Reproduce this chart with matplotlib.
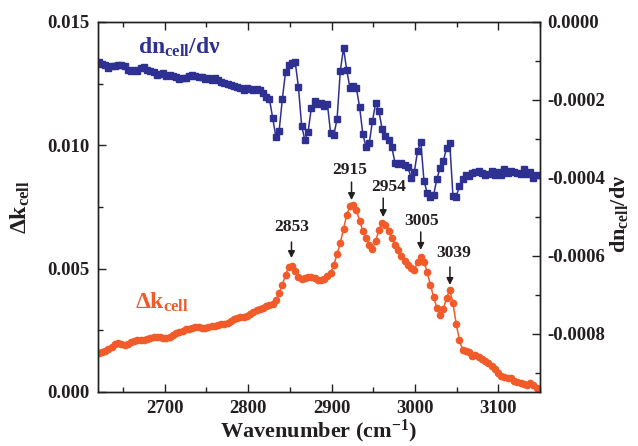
import numpy as np
import matplotlib.pyplot as plt
from matplotlib.ticker import MultipleLocator, FormatStrFormatter

# spectral grid (cm-1), ~3.86 cm-1 sampling
wavenumber = np.linspace(2621, 3146, 137)

# delta k_cell, in units of 1e-3 (left axis)
dk_cell = np.array([
    1.58, 1.62, 1.66, 1.74, 1.82, 1.95, 1.99, 1.95, 1.91, 1.95,
    2.03, 2.07, 2.11, 2.11, 2.11, 2.15, 2.19, 2.23, 2.23, 2.23,
    2.19, 2.19, 2.23, 2.31, 2.39, 2.43, 2.47, 2.55, 2.55, 2.60,
    2.64, 2.64, 2.60, 2.60, 2.64, 2.68, 2.68, 2.72, 2.76, 2.76,
    2.80, 2.88, 2.96, 3.00, 3.04, 3.04, 3.08, 3.16, 3.24, 3.32,
    3.37, 3.41, 3.49, 3.53, 3.57, 3.73, 4.01, 4.34, 4.74, 5.07,
    5.11, 4.91, 4.66, 4.58, 4.62, 4.66, 4.66, 4.62, 4.54, 4.54,
    4.58, 4.70, 4.82, 5.15, 5.60, 6.04, 6.61, 7.18, 7.54, 7.58,
    7.38, 6.93, 6.53, 6.24, 5.96, 5.80, 6.12, 6.57, 6.85, 6.77,
    6.53, 6.24, 5.96, 5.76, 5.51, 5.31, 5.15, 5.03, 4.95, 5.27,
    5.47, 5.27, 4.86, 4.34, 3.85, 3.41, 3.12, 3.37, 3.81, 4.14,
    3.61, 2.76, 2.11, 1.70, 1.66, 1.62, 1.46, 1.50, 1.42, 1.34,
    1.26, 1.18, 1.05, 0.93, 0.77, 0.65, 0.61, 0.57, 0.57, 0.45,
    0.41, 0.36, 0.32, 0.28, 0.36, 0.28, 0.16]) * 1e-3

# dn_cell/dv, magnitude in units of 1e-4 (right axis, negative values)
dn_cell = -np.array([
    1.03, 1.08, 1.10, 1.18, 1.13, 1.13, 1.10, 1.10, 1.13, 1.23,
    1.26, 1.23, 1.26, 1.18, 1.16, 1.23, 1.26, 1.28, 1.36, 1.34,
    1.31, 1.39, 1.36, 1.39, 1.41, 1.46, 1.44, 1.44, 1.39, 1.36,
    1.39, 1.41, 1.41, 1.46, 1.44, 1.49, 1.44, 1.49, 1.54, 1.57,
    1.59, 1.62, 1.64, 1.67, 1.70, 1.75, 1.70, 1.72, 1.75, 1.72,
    1.75, 1.82, 1.93, 1.98,
    2.47, 2.95, 2.80, 1.98, 1.28, 1.10, 1.05, 1.03, 1.67, 2.67,
    3.03, 2.82, 2.21, 2.03, 2.11, 2.08, 2.16, 2.11, 2.85, 2.90,
    2.49, 1.26, 0.67, 1.23, 1.70, 1.64, 1.70, 2.18, 2.88, 3.21,
    3.11, 2.54, 2.08, 2.29, 2.75, 2.93, 3.03, 3.21, 3.62, 3.65,
    3.62, 3.67, 3.72, 4.01, 3.85, 3.31, 3.08, 4.08, 4.39, 4.49,
    4.44, 4.03, 3.75, 3.57, 3.24, 3.11, 4.47, 4.49, 4.21, 4.03,
    3.93, 3.95, 3.88, 3.85, 3.83, 3.88, 3.93, 3.90, 3.83, 3.93,
    3.85, 3.93, 3.77, 3.88, 3.83, 3.85, 3.88, 3.90, 3.77, 3.90,
    3.85, 4.01, 3.93]) * 1e-4

# peak labels
peak_labels = ['2853', '2915', '2954', '3005', '3039']

RED = '#f15a29'
BLUE = '#2e3192'
INK = '#231f20'

plt.rcParams.update({
    'font.family': 'Liberation Serif',
    'font.weight': 'bold',
    'axes.labelweight': 'bold',
    'mathtext.fontset': 'custom',
    'mathtext.rm': 'Liberation Serif:bold',
    'mathtext.it': 'Liberation Serif:bold',
    'mathtext.bf': 'Liberation Serif:bold',
    'mathtext.default': 'rm',
    'axes.unicode_minus': False,
    'axes.linewidth': 1.0,
    'axes.edgecolor': INK,
    'xtick.color': INK,
    'ytick.color': INK,
})

fig = plt.figure(figsize=(6.38, 4.46), dpi=100)
ax = fig.add_axes([0.1536, 0.1211, 0.6928, 0.8296])
ax2 = ax.twinx()

ax.plot(wavenumber, dk_cell, '-o', color=RED, ms=4.5, lw=1.1, mec=RED)
ax2.plot(wavenumber, dn_cell, '-s', color=BLUE, ms=4.0, lw=1.1, mec=BLUE)

ax.set_xlim(2620, 3150)
ax.set_ylim(0, 0.015)
ax2.set_ylim(-0.00095, 0)

ax.xaxis.set_major_locator(MultipleLocator(100))
ax.xaxis.set_minor_locator(MultipleLocator(50))
ax.yaxis.set_major_locator(MultipleLocator(0.005))
ax.yaxis.set_minor_locator(MultipleLocator(0.0025))
ax.yaxis.set_major_formatter(FormatStrFormatter('%.3f'))
ax2.yaxis.set_major_locator(MultipleLocator(0.0002))
ax2.yaxis.set_minor_locator(MultipleLocator(0.0001))
ax2.yaxis.set_major_formatter(FormatStrFormatter('%.4f'))

ax.tick_params(axis='x', which='both', direction='in', top=True, labelsize=13.5, pad=6)
ax.tick_params(axis='y', which='both', direction='in', right=False, labelsize=13.5, pad=6)
ax2.tick_params(axis='y', which='both', direction='in', labelsize=13.5, pad=5)
for a in (ax, ax2):
    a.tick_params(which='major', length=6, width=1)
    a.tick_params(which='minor', length=3.5, width=1)

ax.set_xlabel('Wavenumber (cm$^{-1}$)', fontsize=16, color=INK)
ax.xaxis.set_label_coords(0.5, -0.07)
ax.set_ylabel(r'$\Delta$k$_{\mathrm{cell}}$', fontsize=17, color=INK)
ax.yaxis.set_label_coords(-0.15, 0.5)
ax2.set_ylabel(r'dn$_{\mathrm{cell}}$/d$\nu$', fontsize=16, color=INK)
ax2.yaxis.set_label_coords(1.153, 0.48)

# series labels
ax2.text(0.09, 0.913, r'dn$_{\mathrm{cell}}$/d$\nu$', transform=ax.transAxes,
         fontsize=17, color=BLUE, va='baseline')
ax2.text(0.083, 0.224, r'$\Delta$k$_{\mathrm{cell}}$', transform=ax.transAxes,
         fontsize=17, color=RED, va='baseline')

# peak arrows
arrow_x = [2852, 2924, 2962, 3007, 3042]
text_x = [2852, 2922, 2969, 3008, 3047]
text_y = [0.00669, 0.00900, 0.00831, 0.00693, 0.00564]
tail_y = [0.00608, 0.00851, 0.00786, 0.00649, 0.00507]
head_y = [0.00543, 0.00778, 0.00709, 0.00576, 0.00434]
for lab, xa, xt, yt, y0, y1 in zip(peak_labels, arrow_x, text_x, text_y, tail_y, head_y):
    ax.annotate('', xy=(xa, y1), xytext=(xa, y0),
                arrowprops=dict(arrowstyle='-|>', color=INK, lw=1.1,
                                shrinkA=0, shrinkB=0, mutation_scale=10))
    ax.text(xt, yt, lab, ha='center', va='center', fontsize=12.5, color=INK)

fig.savefig('out.png', dpi=100)
